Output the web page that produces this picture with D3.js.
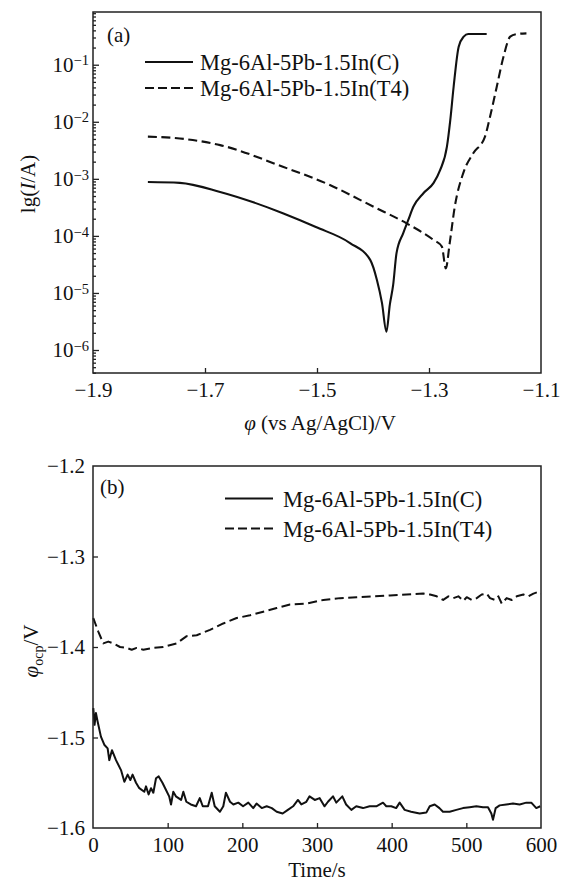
<!DOCTYPE html>
<html>
<head>
<meta charset="utf-8">
<script src="https://cdn.jsdelivr.net/npm/d3@7"></script>
<style>
  html, body { margin: 0; padding: 0; background: #fff; }
  svg { display: block; }
  text { font-family: "Liberation Serif", "Times New Roman", serif; fill: #111; }
</style>
</head>
<body>
<svg id="chart" width="566" height="883"></svg>
<script>
// ---------- (a) potentiodynamic polarization ----------
const seriesNames = ["Mg-6Al-5Pb-1.5In(C)", "Mg-6Al-5Pb-1.5In(T4)"];

// potential (V vs Ag/AgCl) and current (A), cast alloy
const polPotentialC = [-1.802, -1.745, -1.673, -1.561, -1.502, -1.441, -1.405, -1.393, -1.384, -1.376,
  -1.370, -1.364, -1.358, -1.346, -1.337, -1.328, -1.310, -1.292, -1.280, -1.268,
  -1.262, -1.256, -1.247, -1.238, -1.230, -1.197];
const polCurrentC = [8.8e-4, 8.5e-4, 5.9e-4, 2.5e-4, 1.43e-4, 7.5e-5, 3.8e-5, 1.69e-5, 6.7e-6, 2.1e-6,
  6.2e-6, 1.38e-5, 5.0e-5, 1.12e-4, 1.9e-4, 3.24e-4, 5.6e-4, 8.4e-4, 1.43e-3, 3.66e-3,
  1.07e-2, 4.11e-2, 0.207, 0.31, 0.345, 0.345];

// potential (V vs Ag/AgCl) and current (A), T4-treated alloy
const polPotentialT4 = [-1.802, -1.745, -1.673, -1.561, -1.477, -1.399, -1.340, -1.292, -1.277, -1.270,
  -1.263, -1.254, -1.239, -1.221, -1.200, -1.191, -1.179, -1.167, -1.155, -1.143, -1.126];
const polCurrentT4 = [5.5e-3, 5.1e-3, 3.9e-3, 1.63e-3, 7.8e-4, 3.24e-4, 1.66e-4, 8.5e-5, 6.5e-5, 2.7e-5,
  7.5e-5, 3.24e-4, 1.25e-3, 2.8e-3, 5.5e-3, 1.23e-2, 4.11e-2, 0.138, 0.31, 0.345, 0.355];

const polXTicks = [-1.9, -1.7, -1.5, -1.3, -1.1];
const polYTicks = [1e-6, 1e-5, 1e-4, 1e-3, 1e-2, 1e-1];

// ---------- (b) open circuit potential vs time ----------
const ocpTimeC = [0.4, 2.1, 3.9, 6.1, 10.6, 15.1, 19.6, 21.8, 25.4, 30.8, 37.5, 42, 46.4, 50, 53, 57.6, 62,
  68.7, 71, 74.5, 77.7, 80.8, 84.4, 88, 93, 97.8, 102, 104.5, 107.5, 111, 118, 121, 125, 131, 138, 143,
  147, 154, 159, 163, 170, 174.5, 178, 183.5, 188, 194.6, 201, 208, 214.6, 219, 226, 232.6, 239.5, 246,
  254, 261, 268, 274.5, 279, 285.7, 290, 297, 303.6, 310, 314.7, 321.4, 325.8, 333.9, 339, 346, 352.6,
  361.6, 370.5, 379.4, 388.4, 392.8, 399.5, 406, 410.7, 417.4, 426, 437.5, 446.4, 451, 457.6, 464, 468.7,
  477.7, 486.6, 495.5, 504.5, 513.4, 522.3, 529, 533.5, 535.7, 539.3, 544.6, 553.5, 562.5, 571.4, 580.3,
  587, 593.7, 599];
const ocpPotentialC = [-1.4675, -1.486, -1.473, -1.482, -1.499, -1.508, -1.512, -1.525, -1.514, -1.525,
  -1.536, -1.549, -1.541, -1.547, -1.541, -1.550, -1.556, -1.560, -1.554, -1.563, -1.556, -1.561, -1.545,
  -1.543, -1.550, -1.558, -1.565, -1.574, -1.560, -1.565, -1.569, -1.560, -1.571, -1.574, -1.576, -1.567,
  -1.576, -1.576, -1.561, -1.576, -1.582, -1.576, -1.561, -1.571, -1.574, -1.572, -1.576, -1.572, -1.578,
  -1.573, -1.578, -1.576, -1.578, -1.582, -1.584, -1.580, -1.576, -1.569, -1.574, -1.571, -1.565, -1.569,
  -1.567, -1.576, -1.571, -1.565, -1.572, -1.565, -1.574, -1.580, -1.576, -1.578, -1.576, -1.576, -1.572,
  -1.576, -1.576, -1.578, -1.572, -1.580, -1.582, -1.584, -1.583, -1.576, -1.574, -1.578, -1.582, -1.582,
  -1.580, -1.578, -1.577, -1.576, -1.577, -1.577, -1.584, -1.591, -1.578, -1.575, -1.574, -1.573, -1.574,
  -1.572, -1.572, -1.578, -1.576];

const ocpTimeT4 = [0.4, 7.1, 13.8, 20.5, 27.2, 36.2, 45.1, 51.8, 58.5, 67.4, 80.8, 94.2, 112, 125.5, 138.9,
  156.7, 174.5, 192.4, 210.3, 228, 246, 263.8, 286, 308.4, 330.8, 353, 375.4, 397.7, 420, 442.3, 451.3,
  460.3, 469, 476, 482.6, 489.3, 496, 500.5, 507.2, 513.9, 520.6, 527.3, 531.7, 538.4, 542.9, 547.4, 554,
  560.8, 567.5, 576.4, 583, 589.8, 596.4, 599.6];
const ocpPotentialT4 = [-1.368, -1.383, -1.396, -1.394, -1.396, -1.400, -1.401, -1.403, -1.401, -1.403,
  -1.401, -1.400, -1.396, -1.388, -1.387, -1.381, -1.374, -1.368, -1.365, -1.361, -1.357, -1.353, -1.352,
  -1.348, -1.346, -1.345, -1.344, -1.343, -1.342, -1.341, -1.342, -1.344, -1.348, -1.344, -1.346, -1.344,
  -1.349, -1.345, -1.348, -1.346, -1.342, -1.341, -1.346, -1.348, -1.344, -1.352, -1.346, -1.348, -1.344,
  -1.342, -1.344, -1.341, -1.339, -1.341];

const ocpXTicks = [0, 100, 200, 300, 400, 500, 600];
const ocpYTicks = [-1.6, -1.5, -1.4, -1.3, -1.2];

// ---------- drawing ----------
const svg = d3.select("#chart");
const ink = "#111";
const dashPattern = "9,4.5";
const fontSize = 21;

function frame(g, w, h) {
  g.append("rect").attr("x", 0).attr("y", 0).attr("width", w).attr("height", h)
    .attr("fill", "none").attr("stroke", "#222").attr("stroke-width", 1.5);
}

function styleAxis(ax) {
  ax.select(".domain").remove();
  ax.selectAll(".tick line").attr("stroke", "#222").attr("stroke-width", 1.3);
  ax.selectAll(".tick text").attr("font-size", fontSize).attr("fill", ink)
    .style("font-family", '"Liberation Serif", "Times New Roman", serif');
}

const minusFmt = v => (v < 0 ? "\u2212" : "") + Math.abs(v).toFixed(1);

function legend(g, x0, y0, gap, textX) {
  seriesNames.forEach((name, i) => {
    const y = y0 + i * gap;
    g.append("line").attr("x1", x0).attr("x2", x0 + 48).attr("y1", y).attr("y2", y)
      .attr("stroke", ink).attr("stroke-width", 2)
      .attr("stroke-dasharray", i === 1 ? "9,4" : null);
    g.append("text").attr("x", textX).attr("y", y + 8).attr("font-size", 22.5).text(name);
  });
}

// ----- panel (a) -----
{
  const m = { left: 93, top: 12 }, w = 448, h = 361;
  const g = svg.append("g").attr("transform", `translate(${m.left},${m.top})`);
  const x = d3.scaleLinear().domain([-1.9, -1.1]).range([0, w]);
  const y = d3.scaleLog().domain([Math.pow(10, -6.403), Math.pow(10, -0.076)]).range([h, 0]);

  const xa = g.append("g").attr("transform", `translate(0,${h})`)
    .call(d3.axisBottom(x).tickValues(polXTicks).tickSize(-5).tickPadding(9).tickFormat(minusFmt));
  styleAxis(xa);
  xa.selectAll(".tick").filter(d => d === -1.9 || d === -1.1).select("line").remove();

  // minor decades
  const minor = [];
  for (let e = -7; e <= -1; e++) for (let k = 2; k <= 9; k++) {
    const v = k * Math.pow(10, e);
    if (v >= y.domain()[0] && v <= y.domain()[1]) minor.push(v);
  }
  const ym = g.append("g").call(d3.axisLeft(y).tickValues(minor).tickSize(-3).tickFormat(""));
  styleAxis(ym);

  const ya = g.append("g")
    .call(d3.axisLeft(y).tickValues(polYTicks).tickSize(-6).tickPadding(4));
  styleAxis(ya);
  ya.selectAll(".tick text").each(function (d) {
    const t = d3.select(this);
    const ex = Math.round(Math.log10(d));
    t.text("10");
    t.append("tspan").attr("dy", "-0.45em").attr("font-size", 14.5).text("\u2212" + Math.abs(ex));
  });

  const lineFn = d3.line().x(d => x(d[0])).y(d => y(d[1])).curve(d3.curveMonotoneX);
  const dC = d3.zip(polPotentialC, polCurrentC);
  const dT = d3.zip(polPotentialT4, polCurrentT4);
  g.append("path").datum(dC).attr("d", lineFn).attr("fill", "none")
    .attr("stroke", ink).attr("stroke-width", 2.1).attr("stroke-linejoin", "round");
  g.append("path").datum(dT).attr("d", lineFn).attr("fill", "none")
    .attr("stroke", ink).attr("stroke-width", 2.1).attr("stroke-dasharray", dashPattern);

  frame(g, w, h);

  g.append("text").attr("x", 14).attr("y", 30).attr("font-size", fontSize).text("(a)");
  legend(g, 52, 50, 26, 107);

  // axis titles
  const xt = svg.append("text").attr("x", 320).attr("y", 430).attr("text-anchor", "middle")
    .attr("font-size", fontSize);
  xt.append("tspan").attr("font-style", "italic").text("\u03c6");
  xt.append("tspan").text(" (vs Ag/AgCl)/V");

  const yt = svg.append("text").attr("transform", "translate(35,184) rotate(-90)")
    .attr("text-anchor", "middle").attr("font-size", fontSize);
  yt.append("tspan").text("lg(");
  yt.append("tspan").attr("font-style", "italic").text("I");
  yt.append("tspan").text("/A)");
}

// ----- panel (b) -----
{
  const m = { left: 93, top: 466 }, w = 448, h = 362;
  const g = svg.append("g").attr("transform", `translate(${m.left},${m.top})`);
  const x = d3.scaleLinear().domain([0, 600]).range([0, w]);
  const y = d3.scaleLinear().domain([-1.6, -1.2]).range([h, 0]);

  const xa = g.append("g").attr("transform", `translate(0,${h})`)
    .call(d3.axisBottom(x).tickValues(ocpXTicks).tickSize(-5).tickPadding(9).tickFormat(d3.format("d")));
  styleAxis(xa);
  xa.selectAll(".tick").filter(d => d === 0 || d === 600).select("line").remove();

  const ya = g.append("g")
    .call(d3.axisLeft(y).tickValues(ocpYTicks).tickSize(-5).tickPadding(8).tickFormat(minusFmt));
  styleAxis(ya);
  ya.selectAll(".tick").filter(d => d === -1.6 || d === -1.2).select("line").remove();

  const lineFn = d3.line().x(d => x(d[0])).y(d => y(d[1]));
  g.append("path").datum(d3.zip(ocpTimeC, ocpPotentialC)).attr("d", lineFn).attr("fill", "none")
    .attr("stroke", ink).attr("stroke-width", 2).attr("stroke-linejoin", "round");
  g.append("path").datum(d3.zip(ocpTimeT4, ocpPotentialT4)).attr("d", lineFn).attr("fill", "none")
    .attr("stroke", ink).attr("stroke-width", 2).attr("stroke-dasharray", dashPattern)
    .attr("stroke-linejoin", "round");

  frame(g, w, h);

  g.append("text").attr("x", 7).attr("y", 28).attr("font-size", fontSize).text("(b)");
  legend(g, 132, 32.5, 30, 190);

  svg.append("text").attr("x", 317).attr("y", 877).attr("text-anchor", "middle")
    .attr("font-size", fontSize).text("Time/s");

  const yt = svg.append("text").attr("transform", "translate(38,651) rotate(-90)")
    .attr("text-anchor", "middle").attr("font-size", fontSize);
  yt.append("tspan").attr("font-style", "italic").text("\u03c6");
  yt.append("tspan").attr("dy", 5).attr("font-size", 14).text("ocp");
  yt.append("tspan").attr("dy", -5).text("/V");
}
</script>
</body>
</html>
